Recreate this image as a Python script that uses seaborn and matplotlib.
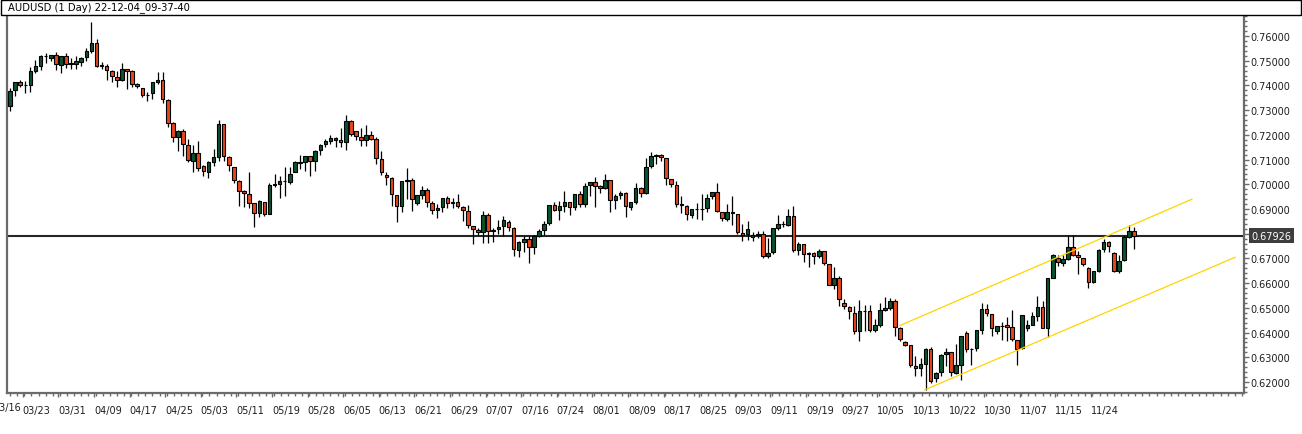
import numpy as np
import pandas as pd
import matplotlib
matplotlib.use("Agg")
import matplotlib.pyplot as plt
import matplotlib.transforms as mtransforms
from matplotlib.patches import Rectangle
from matplotlib.ticker import MultipleLocator, FormatStrFormatter
import seaborn as sns

# ---------------- data ----------------
title_text = "AUDUSD (1 Day) 22-12-04_09-37-40"

opens = [
    0.7315, 0.7380, 0.7412, 0.7400, 0.7400, 0.7459, 0.7480, 0.7518, 0.7509, 0.7522,
    0.7484, 0.7518, 0.7488, 0.7488, 0.7493, 0.7516, 0.7540, 0.7570, 0.7480, 0.7478,
    0.7458, 0.7433, 0.7423, 0.7465, 0.7457, 0.7404, 0.7388, 0.7360, 0.7368, 0.7415,
    0.7424, 0.7343, 0.7250, 0.7190, 0.7214, 0.7160, 0.7096, 0.7125, 0.7074, 0.7051,
    0.7091, 0.7112, 0.7243, 0.7109, 0.7069, 0.7012, 0.6971, 0.6959, 0.6923, 0.6885,
    0.6927, 0.6881, 0.6996, 0.7002, 0.7012, 0.7010, 0.7050, 0.7089, 0.7089, 0.7113,
    0.7093, 0.7140, 0.7164, 0.7177, 0.7181, 0.7179, 0.7170, 0.7255, 0.7214, 0.7190,
    0.7179, 0.7198, 0.7182, 0.7103, 0.7038, 0.7024, 0.6955, 0.6911, 0.7012, 0.7016,
    0.6923, 0.6958, 0.6976, 0.6923, 0.6895, 0.6907, 0.6943, 0.6923, 0.6927, 0.6907,
    0.6891, 0.6830, 0.6815, 0.6806, 0.6874, 0.6810, 0.6818, 0.6830, 0.6846, 0.6822,
    0.6733, 0.6768, 0.6777, 0.6745, 0.6792, 0.6814, 0.6842, 0.6915, 0.6895, 0.6913,
    0.6927, 0.6910, 0.6960, 0.6922, 0.6998, 0.7009, 0.6995, 0.6987, 0.7016, 0.6935,
    0.6955, 0.6964, 0.6910, 0.6928, 0.6987, 0.6963, 0.7072, 0.7114, 0.7117, 0.7105,
    0.7020, 0.6999, 0.6922, 0.6914, 0.6874, 0.6898, 0.6900, 0.6905, 0.6951, 0.6968,
    0.6886, 0.6860, 0.6886, 0.6878, 0.6801, 0.6797, 0.6786, 0.6795, 0.6798, 0.6709,
    0.6725, 0.6825, 0.6840, 0.6837, 0.6872, 0.6733, 0.6757, 0.6718, 0.6721, 0.6709,
    0.6729, 0.6676, 0.6594, 0.6620, 0.6518, 0.6502, 0.6481, 0.6405, 0.6486, 0.6486,
    0.6409, 0.6431, 0.6493, 0.6501, 0.6528, 0.6417, 0.6362, 0.6350, 0.6265, 0.6258,
    0.6274, 0.6334, 0.6215, 0.6239, 0.6312, 0.6320, 0.6236, 0.6270, 0.6397, 0.6332,
    0.6336, 0.6412, 0.6496, 0.6474, 0.6405, 0.6425, 0.6431, 0.6421, 0.6369, 0.6336,
    0.6420, 0.6431, 0.6467, 0.6502, 0.6420, 0.6621, 0.6701, 0.6683, 0.6699, 0.6745,
    0.6712, 0.6701, 0.6660, 0.6606, 0.6649, 0.6737, 0.6767, 0.6722, 0.6651, 0.6693,
    0.6788, 0.6813,
]
highs = [
    0.7389, 0.7415, 0.7420, 0.7419, 0.7473, 0.7503, 0.7523, 0.7530, 0.7523, 0.7534,
    0.7519, 0.7531, 0.7509, 0.7518, 0.7514, 0.7550, 0.7657, 0.7588, 0.7493, 0.7486,
    0.7462, 0.7457, 0.7489, 0.7466, 0.7462, 0.7408, 0.7389, 0.7372, 0.7413, 0.7453,
    0.7453, 0.7344, 0.7251, 0.7219, 0.7223, 0.7185, 0.7159, 0.7174, 0.7078, 0.7093,
    0.7141, 0.7260, 0.7244, 0.7116, 0.7070, 0.7017, 0.6977, 0.7048, 0.6924, 0.6935,
    0.6928, 0.7006, 0.7040, 0.7033, 0.7069, 0.7069, 0.7093, 0.7120, 0.7114, 0.7114,
    0.7137, 0.7163, 0.7183, 0.7198, 0.7193, 0.7226, 0.7279, 0.7260, 0.7215, 0.7228,
    0.7239, 0.7217, 0.7190, 0.7136, 0.7049, 0.7028, 0.6956, 0.7013, 0.7066, 0.7024,
    0.6956, 0.6992, 0.6984, 0.6931, 0.6919, 0.6944, 0.6953, 0.6943, 0.6961, 0.6912,
    0.6916, 0.6831, 0.6822, 0.6892, 0.6882, 0.6822, 0.6855, 0.6870, 0.6854, 0.6826,
    0.6769, 0.6791, 0.6789, 0.6796, 0.6819, 0.6850, 0.6916, 0.6927, 0.6934, 0.6972,
    0.6928, 0.6961, 0.6974, 0.7006, 0.7010, 0.7030, 0.6998, 0.7041, 0.7017, 0.6960,
    0.6974, 0.6970, 0.6928, 0.7006, 0.6988, 0.7106, 0.7129, 0.7124, 0.7124, 0.7106,
    0.7021, 0.7013, 0.6952, 0.6915, 0.6899, 0.6924, 0.6960, 0.6959, 0.6969, 0.7006,
    0.6887, 0.6920, 0.6952, 0.6879, 0.6839, 0.6853, 0.6806, 0.6813, 0.6813, 0.6782,
    0.6823, 0.6876, 0.6853, 0.6901, 0.6914, 0.6765, 0.6758, 0.6725, 0.6725, 0.6738,
    0.6730, 0.6677, 0.6667, 0.6628, 0.6536, 0.6509, 0.6509, 0.6531, 0.6513, 0.6513,
    0.6455, 0.6520, 0.6543, 0.6539, 0.6536, 0.6423, 0.6367, 0.6351, 0.6307, 0.6296,
    0.6339, 0.6340, 0.6239, 0.6313, 0.6338, 0.6323, 0.6352, 0.6388, 0.6408, 0.6336,
    0.6410, 0.6520, 0.6516, 0.6475, 0.6426, 0.6444, 0.6462, 0.6493, 0.6370, 0.6473,
    0.6452, 0.6482, 0.6547, 0.6527, 0.6622, 0.6718, 0.6712, 0.6712, 0.6793, 0.6793,
    0.6732, 0.6702, 0.6664, 0.6649, 0.6737, 0.6779, 0.6772, 0.6725, 0.6712, 0.6793,
    0.6837, 0.6826,
]
lows = [
    0.7298, 0.7358, 0.7395, 0.7370, 0.7374, 0.7449, 0.7464, 0.7492, 0.7500, 0.7464,
    0.7451, 0.7472, 0.7466, 0.7468, 0.7480, 0.7500, 0.7531, 0.7476, 0.7465, 0.7423,
    0.7414, 0.7395, 0.7419, 0.7387, 0.7395, 0.7389, 0.7354, 0.7338, 0.7346, 0.7407,
    0.7330, 0.7233, 0.7173, 0.7133, 0.7115, 0.7092, 0.7051, 0.7055, 0.7032, 0.7027,
    0.7075, 0.7096, 0.7094, 0.7055, 0.7006, 0.6911, 0.6909, 0.6904, 0.6826, 0.6866,
    0.6870, 0.6879, 0.6988, 0.6946, 0.6954, 0.7001, 0.7048, 0.7062, 0.7055, 0.7032,
    0.7055, 0.7120, 0.7150, 0.7163, 0.7150, 0.7150, 0.7137, 0.7195, 0.7179, 0.7156,
    0.7156, 0.7179, 0.7082, 0.7038, 0.6999, 0.6911, 0.6849, 0.6889, 0.6941, 0.6893,
    0.6918, 0.6939, 0.6909, 0.6878, 0.6865, 0.6888, 0.6905, 0.6904, 0.6903, 0.6853,
    0.6823, 0.6760, 0.6795, 0.6761, 0.6761, 0.6765, 0.6799, 0.6789, 0.6812, 0.6711,
    0.6707, 0.6725, 0.6680, 0.6716, 0.6785, 0.6796, 0.6834, 0.6892, 0.6857, 0.6889,
    0.6877, 0.6895, 0.6909, 0.6909, 0.6953, 0.6909, 0.6966, 0.6981, 0.6886, 0.6900,
    0.6940, 0.6868, 0.6894, 0.6922, 0.6947, 0.6960, 0.7064, 0.7084, 0.7093, 0.6997,
    0.6990, 0.6910, 0.6885, 0.6856, 0.6862, 0.6859, 0.6855, 0.6886, 0.6940, 0.6887,
    0.6850, 0.6850, 0.6835, 0.6797, 0.6769, 0.6776, 0.6772, 0.6782, 0.6701, 0.6701,
    0.6718, 0.6817, 0.6826, 0.6833, 0.6725, 0.6712, 0.6685, 0.6667, 0.6678, 0.6701,
    0.6672, 0.6591, 0.6577, 0.6509, 0.6496, 0.6455, 0.6394, 0.6365, 0.6408, 0.6401,
    0.6401, 0.6421, 0.6486, 0.6493, 0.6388, 0.6367, 0.6347, 0.6262, 0.6225, 0.6224,
    0.6167, 0.6196, 0.6201, 0.6226, 0.6266, 0.6226, 0.6231, 0.6209, 0.6323, 0.6270,
    0.6327, 0.6394, 0.6469, 0.6388, 0.6394, 0.6371, 0.6367, 0.6367, 0.6270, 0.6334,
    0.6405, 0.6430, 0.6446, 0.6417, 0.6383, 0.6620, 0.6671, 0.6671, 0.6695, 0.6709,
    0.6635, 0.6671, 0.6582, 0.6599, 0.6647, 0.6725, 0.6725, 0.6644, 0.6640, 0.6690,
    0.6782, 0.6739,
]
closes = [
    0.7376, 0.7412, 0.7400, 0.7401, 0.7457, 0.7477, 0.7518, 0.7519, 0.7522, 0.7485,
    0.7518, 0.7488, 0.7489, 0.7497, 0.7513, 0.7539, 0.7570, 0.7480, 0.7482, 0.7461,
    0.7437, 0.7423, 0.7465, 0.7459, 0.7404, 0.7399, 0.7360, 0.7362, 0.7412, 0.7424,
    0.7347, 0.7246, 0.7190, 0.7214, 0.7164, 0.7098, 0.7125, 0.7064, 0.7052, 0.7089,
    0.7109, 0.7243, 0.7113, 0.7079, 0.7016, 0.6971, 0.6966, 0.6925, 0.6885, 0.6934,
    0.6881, 0.6996, 0.7000, 0.7012, 0.7013, 0.7040, 0.7089, 0.7087, 0.7113, 0.7093,
    0.7136, 0.7158, 0.7174, 0.7187, 0.7187, 0.7170, 0.7255, 0.7205, 0.7194, 0.7179,
    0.7198, 0.7182, 0.7105, 0.7049, 0.7028, 0.6959, 0.6911, 0.7012, 0.7016, 0.6939,
    0.6955, 0.6976, 0.6927, 0.6895, 0.6903, 0.6943, 0.6923, 0.6927, 0.6911, 0.6895,
    0.6834, 0.6818, 0.6806, 0.6874, 0.6810, 0.6814, 0.6827, 0.6854, 0.6826, 0.6738,
    0.6768, 0.6777, 0.6745, 0.6791, 0.6810, 0.6838, 0.6915, 0.6895, 0.6911, 0.6927,
    0.6910, 0.6960, 0.6922, 0.6993, 0.7009, 0.6995, 0.6985, 0.7016, 0.6935, 0.6952,
    0.6964, 0.6914, 0.6927, 0.6987, 0.6963, 0.7070, 0.7114, 0.7120, 0.7109, 0.7024,
    0.7003, 0.6922, 0.6918, 0.6878, 0.6898, 0.6900, 0.6902, 0.6945, 0.6968, 0.6893,
    0.6862, 0.6886, 0.6882, 0.6805, 0.6794, 0.6820, 0.6795, 0.6798, 0.6709, 0.6722,
    0.6822, 0.6840, 0.6841, 0.6872, 0.6733, 0.6757, 0.6718, 0.6721, 0.6709, 0.6729,
    0.6680, 0.6594, 0.6620, 0.6536, 0.6506, 0.6486, 0.6405, 0.6486, 0.6489, 0.6409,
    0.6431, 0.6490, 0.6500, 0.6528, 0.6421, 0.6374, 0.6351, 0.6267, 0.6258, 0.6273,
    0.6332, 0.6203, 0.6235, 0.6309, 0.6320, 0.6239, 0.6269, 0.6385, 0.6332, 0.6334,
    0.6409, 0.6496, 0.6478, 0.6417, 0.6425, 0.6428, 0.6424, 0.6373, 0.6335, 0.6470,
    0.6431, 0.6466, 0.6502, 0.6420, 0.6621, 0.6712, 0.6685, 0.6698, 0.6745, 0.6712,
    0.6707, 0.6676, 0.6606, 0.6648, 0.6736, 0.6767, 0.6749, 0.6651, 0.6690, 0.6786,
    0.6810, 0.67926,
]
date_labels = [
    "03/16", "03/23", "03/31", "04/09", "04/17", "04/25", "05/03", "05/11",
    "05/19", "05/28", "06/05", "06/13", "06/21", "06/29", "07/07", "07/16",
    "07/24", "08/01", "08/09", "08/17", "08/25", "09/03", "09/11", "09/19",
    "09/27", "10/05", "10/13", "10/22", "10/30", "11/07", "11/15", "11/24",
]
last_price = 0.67926
# trend channel drawn on the chart (bar index, price)
channel_upper_bar = [174.9, 232.4]
channel_upper_price = [0.6428, 0.6940]
channel_lower_bar = [179.8, 240.9]
channel_lower_price = [0.6168, 0.6705]

# ---------------- styling ----------------
sns.set_theme(style="white")
plt.rcParams["font.family"] = ["DejaVu Sans"]
plt.rcParams["font.size"] = 7

GREEN = "#0b5230"
RED = "#e8461b"
AXIS_GRAY = "#6b6b6b"
TEXT_COL = "#1e1e1e"

df = pd.DataFrame({"open": opens, "high": highs, "low": lows, "close": closes})
df["bar"] = np.arange(len(df))
df["up"] = df["close"] >= df["open"]
df["body_low"] = df[["open", "close"]].min(axis=1)
df["body_h"] = (df["close"] - df["open"]).abs().clip(lower=0.00002)

W, H = 1302, 435
fig = plt.figure(figsize=(W / 100, H / 100), dpi=100)
fig.patch.set_facecolor("white")
ax = fig.add_axes([7 / W, 1 - 394 / H, (1244 - 7) / W, (394 - 16) / H])
ax.set_facecolor("white")

# horizontal last-price line
ax.axhline(last_price, color="#262626", lw=1.5, zorder=1)

# wicks and bodies
ax.vlines(df["bar"], df["low"], df["high"], color="black", lw=0.9, zorder=2)
ax.bar(df["bar"], df["body_h"], bottom=df["body_low"], width=0.7,
       color=np.where(df["up"], GREEN, RED), edgecolor="black",
       linewidth=0.8, zorder=3)

# channel lines (seaborn)
sns.lineplot(x=channel_upper_bar, y=channel_upper_price, color="#ffd400",
             lw=0.9, ax=ax, zorder=4)
sns.lineplot(x=channel_lower_bar, y=channel_lower_price, color="#ffd400",
             lw=0.9, ax=ax, zorder=4)

ax.set_xlim(-0.6, 242.6)
ax.set_ylim(0.61555, 0.7685)

# spines
for side in ["left", "bottom", "right"]:
    ax.spines[side].set_visible(True)
    ax.spines[side].set_color(AXIS_GRAY)
    ax.spines[side].set_linewidth(1.6)
ax.spines["top"].set_visible(False)

# y axis on the right
ax.yaxis.tick_right()
ax.yaxis.set_major_locator(MultipleLocator(0.01))
ax.yaxis.set_minor_locator(MultipleLocator(0.002))
ax.yaxis.set_major_formatter(FormatStrFormatter("%.5f"))
ax.tick_params(axis="y", which="major", direction="out", length=3.6, width=1,
               color=AXIS_GRAY, labelsize=7, labelcolor=TEXT_COL, pad=1,
               left=False, right=True)
ax.tick_params(axis="y", which="minor", direction="out", length=2, width=1,
               color=AXIS_GRAY, left=False, right=True)

# x axis: date labels every 7 bars (the first one starts just left of the chart)
label_pos = [7 * k - 4.5 for k in range(len(date_labels))]
label_pos[0] = -3.3
inside = [(p, t) for p, t in zip(label_pos, date_labels) if p >= -0.6]
ax.set_xticks([p for p, _ in inside])
ax.set_xticklabels([t for _, t in inside], ha="left")
ax.xaxis.set_minor_locator(MultipleLocator(1.4))
ax.tick_params(axis="x", which="major", direction="out", length=3, width=1,
               color=AXIS_GRAY, labelsize=7, labelcolor=TEXT_COL, pad=6,
               bottom=True, top=False)
ax.tick_params(axis="x", which="minor", direction="out", length=2, width=1,
               color=AXIS_GRAY, bottom=True, top=False)
xtrans = mtransforms.blended_transform_factory(ax.transData, ax.transAxes)
for p, t in zip(label_pos, date_labels):
    if p < -0.6:
        ax.text(p, -9.2 / 378, t, transform=xtrans, ha="left", va="top",
                fontsize=7, color=TEXT_COL, clip_on=False)

# last price tag on the price scale
ytrans = mtransforms.blended_transform_factory(ax.transAxes, ax.transData)
ax.text(1 + 7.5 / 1237, last_price, f"{last_price:.5f}", transform=ytrans,
        ha="left", va="center", fontsize=7, color="white", clip_on=False,
        zorder=10,
        bbox=dict(boxstyle="square,pad=0.22", fc="#3d3d3d", ec="none"))

# title bar
fig.patches.append(Rectangle((0.5 / W, 1 - 15.5 / H), 1300 / W, 15 / H,
                             transform=fig.transFigure, fill=True,
                             facecolor="white", edgecolor="black", lw=1.0))
fig.text(7.5 / W, 1 - 8 / H, title_text, ha="left", va="center",
         fontsize=7.2, color="black")

fig.savefig("out.png", dpi=100, facecolor="white")
